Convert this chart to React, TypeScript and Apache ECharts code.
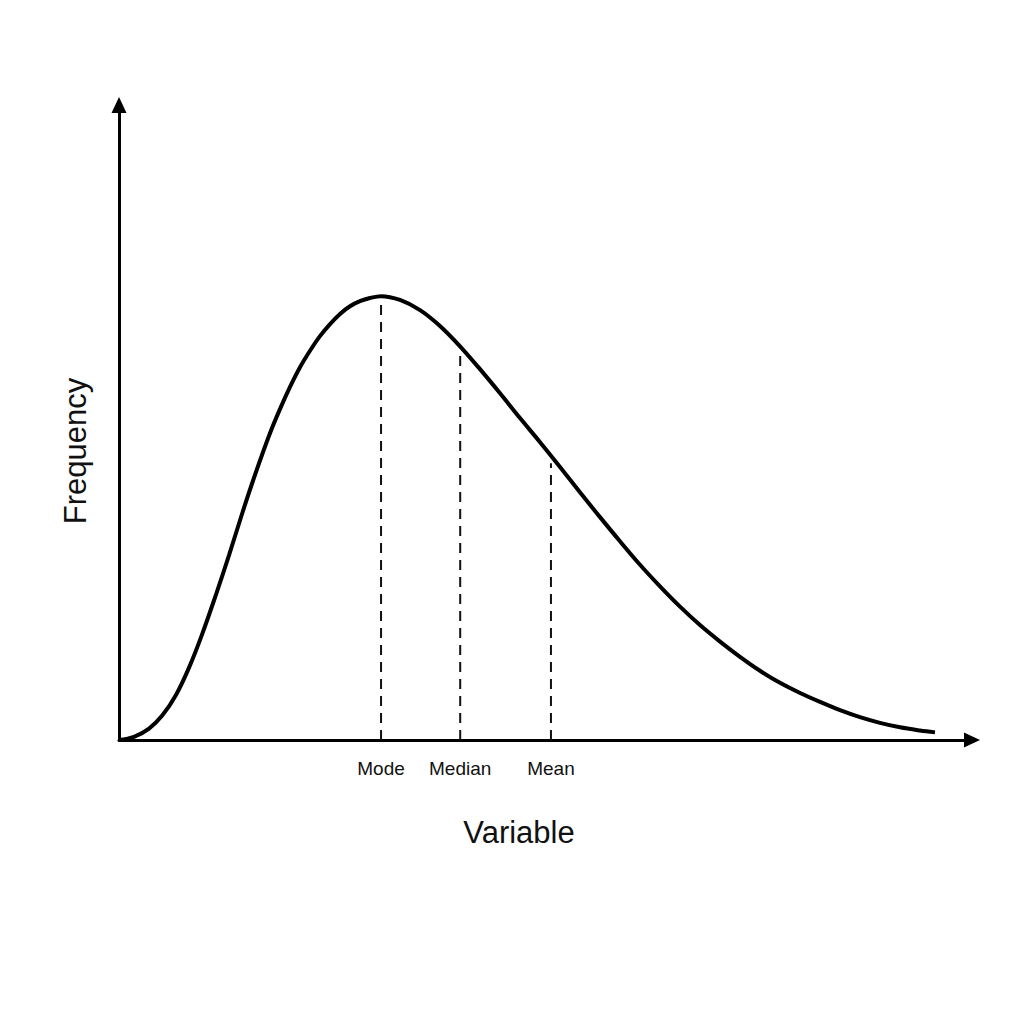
import React, { useEffect, useRef } from "react";
import * as echarts from "echarts";

const curveX = [0, 0.176, 0.352, 0.504, 0.668, 0.821, 0.973, 1.137, 1.29, 1.454, 1.606, 1.77, 1.887, 2.005, 2.122, 2.239, 2.356, 2.474, 2.591, 2.708, 2.825, 2.942, 3.072, 3.294, 3.529, 3.763, 3.998, 4.232, 4.467, 4.701, 4.936, 5.17, 5.404, 5.639, 5.873, 6.108, 6.342, 6.577, 6.811, 7.046, 7.28, 7.515, 7.749, 7.984, 8.218, 8.453, 8.687, 8.921, 9.156, 9.39, 9.566];
const curveY = [0, 0.005, 0.018, 0.038, 0.071, 0.114, 0.166, 0.229, 0.291, 0.361, 0.422, 0.483, 0.521, 0.556, 0.587, 0.613, 0.636, 0.655, 0.671, 0.683, 0.691, 0.696, 0.699, 0.693, 0.677, 0.652, 0.62, 0.584, 0.546, 0.507, 0.469, 0.43, 0.39, 0.351, 0.313, 0.276, 0.242, 0.21, 0.181, 0.155, 0.131, 0.109, 0.09, 0.074, 0.06, 0.047, 0.036, 0.027, 0.02, 0.015, 0.012];

const statNames = ["Mode", "Median", "Mean"];
const statX = [3.072, 4.0, 5.064];
const statTop = [0.693, 0.611, 0.436];

const xTitle = "Variable";
const yTitle = "Frequency";

export default function App() {
  const ref = useRef<HTMLDivElement>(null);
  useEffect(() => {
    if (!ref.current) return;
    const chart = echarts.init(ref.current, undefined, { renderer: "svg" });
    const font = "Liberation Sans, Arial, Helvetica, sans-serif";
    const dashed = statX.map((x, i) => ({
      type: "line",
      symbol: "none",
      silent: true,
      lineStyle: { color: "#111", width: 2, type: [10, 7] },
      data: [
        [x, 0],
        [x, statTop[i]],
      ],
      z: 1,
    }));
    chart.setOption({
      animation: false,
      backgroundColor: "#ffffff",
      grid: { left: 119, right: 52, top: 105, bottom: 284 },
      xAxis: {
        type: "value",
        min: 0,
        max: 10,
        splitLine: { show: false },
        axisTick: { show: false },
        axisLine: {
          show: true,
          symbol: ["none", "triangle"],
          symbolSize: [15, 16],
          lineStyle: { color: "#000", width: 3 },
        },
        axisLabel: {
          show: true,
          customValues: statX,
          formatter: (v: number) => {
            const i = statX.indexOf(v);
            return i >= 0 ? statNames[i] : "";
          },
          margin: 19,
          color: "#111",
          fontSize: 19,
          fontFamily: font,
        },
      },
      yAxis: {
        type: "value",
        min: 0,
        max: 1,
        splitLine: { show: false },
        axisTick: { show: false },
        axisLabel: { show: false },
        axisLine: {
          show: true,
          symbol: ["none", "triangle"],
          symbolSize: [15, 16],
          lineStyle: { color: "#000", width: 3 },
        },
      },
      graphic: [
        {
          type: "text",
          x: 519,
          y: 832,
          style: {
            text: xTitle,
            fontSize: 31,
            fontFamily: font,
            fill: "#111",
            align: "center",
            verticalAlign: "middle",
          },
        },
        {
          type: "text",
          x: 75,
          y: 451,
          rotation: Math.PI / 2,
          style: {
            text: yTitle,
            fontSize: 31,
            fontFamily: font,
            fill: "#111",
            align: "center",
            verticalAlign: "middle",
          },
        },
      ],
      series: [
        {
          type: "line",
          symbol: "none",
          smooth: 0.35,
          silent: true,
          lineStyle: { color: "#000", width: 4 },
          data: curveX.map((x, i) => [x, curveY[i]]),
          z: 3,
        },
        ...dashed,
      ],
    });
    return () => chart.dispose();
  }, []);
  return (
    <div
      ref={ref}
      style={{ position: "absolute", left: 0, top: 0, width: 1024, height: 1024, background: "#fff" }}
    />
  );
}
